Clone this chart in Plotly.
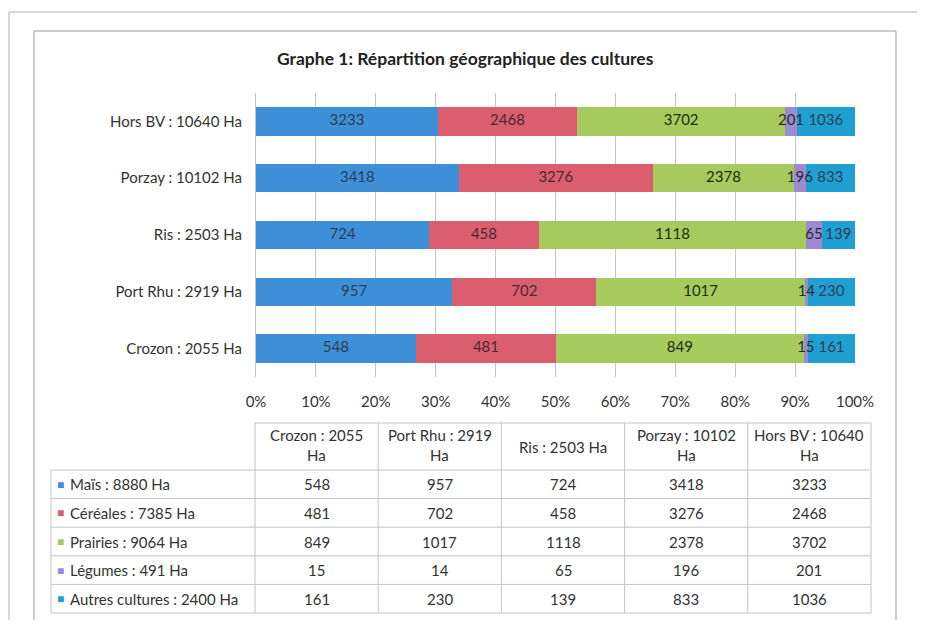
import plotly.graph_objects as go

# Data
regions = ["Crozon : 2055 Ha", "Port Rhu : 2919 Ha", "Ris : 2503 Ha",
           "Porzay : 10102 Ha", "Hors BV : 10640 Ha"]
header_labels = ["Crozon : 2055<br>Ha", "Port Rhu : 2919<br>Ha", "Ris : 2503 Ha",
                 "Porzay : 10102<br>Ha", "Hors BV : 10640<br>Ha"]
crops = ["Maïs : 8880 Ha", "Céréales : 7385 Ha", "Prairies : 9064 Ha",
         "Légumes : 491 Ha", "Autres cultures : 2400 Ha"]
mais = [548, 957, 724, 3418, 3233]
cereales = [481, 702, 458, 3276, 2468]
prairies = [849, 1017, 1118, 2378, 3702]
legumes = [15, 14, 65, 196, 201]
autres = [161, 230, 139, 833, 1036]
x_ticks = [0, 10, 20, 30, 40, 50, 60, 70, 80, 90, 100]
x_tick_labels = ["0%", "10%", "20%", "30%", "40%", "50%", "60%", "70%", "80%", "90%", "100%"]

series = [mais, cereales, prairies, legumes, autres]
colors = ["#3D8FD8", "#DA5E6E", "#A7CA5E", "#9D8BD1", "#1F9FD2"]
text_colors = ["#2b3f55", "#4a2a30", "#1e2a12", "#2a2a2a", "#2b3f55"]

# page body has an 8px margin, so the figure is 8px smaller on each side
OFF = 8
W, H = 925 - 2 * OFF, 628 - 2 * OFF
FONT = "Lato"
FS = 15


def px(x):
    return (x - OFF) / W


def py(y):
    return 1 - (y - OFF) / H


fig = go.Figure()

for name, vals, col in zip(crops, series, colors):
    fig.add_trace(go.Bar(
        y=regions, x=vals, orientation="h", name=name,
        marker=dict(color=col, line=dict(width=0)),
        showlegend=False,
    ))

# value labels on top of all bars (centre of each stacked segment, in percent)
totals = [sum(v) for v in zip(*series)]
base = [0.0] * len(regions)
for vals, tcol in zip(series, text_colors):
    pct = [v / t * 100 for v, t in zip(vals, totals)]
    mid = [b + p / 2 for b, p in zip(base, pct)]
    base = [b + p for b, p in zip(base, pct)]
    fig.add_trace(go.Scatter(
        y=regions, x=mid, mode="text", text=[str(v) for v in vals],
        textposition="middle center",
        textfont=dict(family=FONT, size=FS, color=tcol),
        showlegend=False, hoverinfo="skip",
    ))

shapes = []
annotations = []


def hline(x0, x1, y, color="#c4c4c4"):
    shapes.append(dict(type="line", xref="paper", yref="paper",
                       x0=px(x0), x1=px(x1), y0=py(y), y1=py(y),
                       line=dict(color=color, width=1)))


def vline(x, y0, y1, color="#c4c4c4"):
    shapes.append(dict(type="line", xref="paper", yref="paper",
                       x0=px(x), x1=px(x), y0=py(y0), y1=py(y1),
                       line=dict(color=color, width=1)))


def label(text, x, y, size=FS, xanchor="center", color="#333"):
    annotations.append(dict(text=text, x=px(x), y=py(y), xref="paper", yref="paper",
                            xanchor=xanchor, yanchor="middle", showarrow=False,
                            align="center", font=dict(family=FONT, size=size, color=color)))


# page frames
hline(9, 917, 12, "#b0b0b0")
vline(9, 12, 620, "#b0b0b0")
hline(34, 896, 31, "#9a9a9a")
vline(34, 31, 620, "#9a9a9a")
vline(896, 31, 620, "#9a9a9a")

# title
label("<b>Graphe 1: Répartition géographique des cultures</b>", 465, 58, size=17.5, color="#222")

# data table
tab_left = 51
col_left = 255
col_right = 871
head_top = 423
row_top = 470
row_h = 28.6
n_cols = len(regions)
col_w = (col_right - col_left) / n_cols
tab_bottom = row_top + row_h * len(crops)

hline(col_left, col_right, head_top)
for i in range(len(crops) + 1):
    hline(tab_left, col_right, row_top + i * row_h)
vline(tab_left, row_top, tab_bottom)
for j in range(n_cols + 1):
    vline(col_left + j * col_w, head_top, tab_bottom)

for j, lab in enumerate(header_labels):
    lines = lab.split("<br>")
    xc = col_left + (j + 0.5) * col_w
    if len(lines) == 1:
        label(lines[0], xc, (head_top + row_top) / 2)
    else:
        label(lines[0], xc, head_top + 12)
        label(lines[1], xc, head_top + 32)

for i, (crop, vals, col) in enumerate(zip(crops, series, colors)):
    yc = row_top + (i + 0.5) * row_h
    label("■", 55, yc, size=12, xanchor="left", color=col)
    label(crop, 68, yc, xanchor="left")
    for j, v in enumerate(vals):
        label(str(v), col_left + (j + 0.5) * col_w, yc)

fig.update_layout(
    width=W, height=H,
    autosize=False,
    margin=dict(l=0, r=0, t=0, b=0, pad=0),
    paper_bgcolor="white", plot_bgcolor="white",
    barmode="stack", barnorm="percent", bargap=0.5,
    font=dict(family=FONT, size=FS, color="#333"),
    xaxis=dict(domain=[px(256), px(855)], range=[0, 100],
               tickvals=x_ticks, ticktext=x_tick_labels,
               showgrid=True, gridcolor="#c6c6c6", gridwidth=1,
               zeroline=False, showline=False, ticks="",
               automargin=False, fixedrange=True,
               ticklabelstandoff=14,
               tickfont=dict(family=FONT, size=FS, color="#333")),
    yaxis=dict(domain=[py(377), py(93)],
               showgrid=False, zeroline=False,
               showline=True, linecolor="#c6c6c6", ticks="",
               automargin=False, fixedrange=True,
               ticklabelstandoff=10,
               tickfont=dict(family=FONT, size=FS, color="#333")),
    shapes=shapes, annotations=annotations,
)

fig.write_html("out.html")
